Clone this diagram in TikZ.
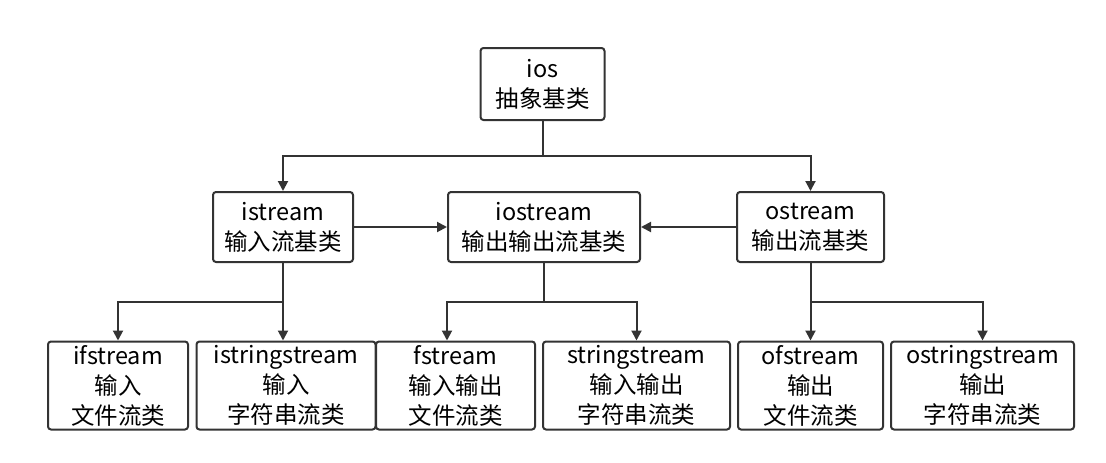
\documentclass[tikz,border=0pt]{standalone}
\usepackage{fontspec}
\setmainfont{Noto Sans CJK SC}
\usetikzlibrary{arrows.meta}
\definecolor{ln}{HTML}{333333}
\begin{document}
\begin{tikzpicture}[x=1pt,y=-1pt,
  box/.style={draw=ln,line width=2pt,rounded corners=3pt,fill=white,inner sep=0pt,align=center,
    font=\fontsize{23.5}{30}\selectfont,text=black},
  top/.style={box,minimum height=70pt},
  bot/.style={box,minimum height=88pt},
  arr/.style={draw=ln,line width=2pt,-{Triangle[length=10pt,width=10pt]}},
  ln/.style={draw=ln,line width=2pt}]
\useasboundingbox (0,0) rectangle (1106,463);
\node[box,minimum width=124pt,minimum height=72pt] (ios) at (542.5,84) {ios\\抽象基类};
\node[top,minimum width=140pt] (istream) at (283,227) {istream\\输入流基类};
\node[top,minimum width=192pt] (iostream) at (544,227) {iostream\\输出输出流基类};
\node[top,minimum width=147pt] (ostream) at (810.5,227) {ostream\\输出流基类};
\node[bot,minimum width=140pt] (ifs) at (118,385.5) {ifstream\\输入\\文件流类};
\node[bot,minimum width=179pt] (iss) at (286,385.5) {istringstream\\输入\\字符串流类};
\node[bot,minimum width=159pt] (fs) at (455.5,385.5) {fstream\\输入输出\\文件流类};
\node[bot,minimum width=187pt] (ss) at (636.5,385.5) {stringstream\\输入输出\\字符串流类};
\node[bot,minimum width=145pt] (ofs) at (810.5,385.5) {ofstream\\输出\\文件流类};
\node[bot,minimum width=183pt] (oss) at (982.5,385.5) {ostringstream\\输出\\字符串流类};
% top tree
\draw[ln] (ios.south) -- ++(0,35) coordinate (j0);
\draw[arr] (j0) -| (istream.north);
\draw[arr] (j0) -| (ostream.north);
% middle
\draw[arr] (istream.east) -- (iostream.west);
\draw[arr] (ostream.west) -- (iostream.east);
% istream branch
\draw[ln] (istream.south) -- ++(0,39) coordinate (j1);
\draw[arr] (j1) -| (ifs.north);
\draw[arr] (j1) -- (j1 |- iss.north);
% iostream branch
\draw[ln] (iostream.south) -- ++(0,39) coordinate (j2);
\draw[arr] (j2) -| (fs.north -| iostream.west);
\draw[arr] (j2) -| (ss.north);
% ostream branch
\draw[ln] (ostream.south) -- ++(0,39) coordinate (j3);
\draw[arr] (j3) -- (j3 |- ofs.north);
\draw[arr] (j3) -| (oss.north);
\end{tikzpicture}
\end{document}
